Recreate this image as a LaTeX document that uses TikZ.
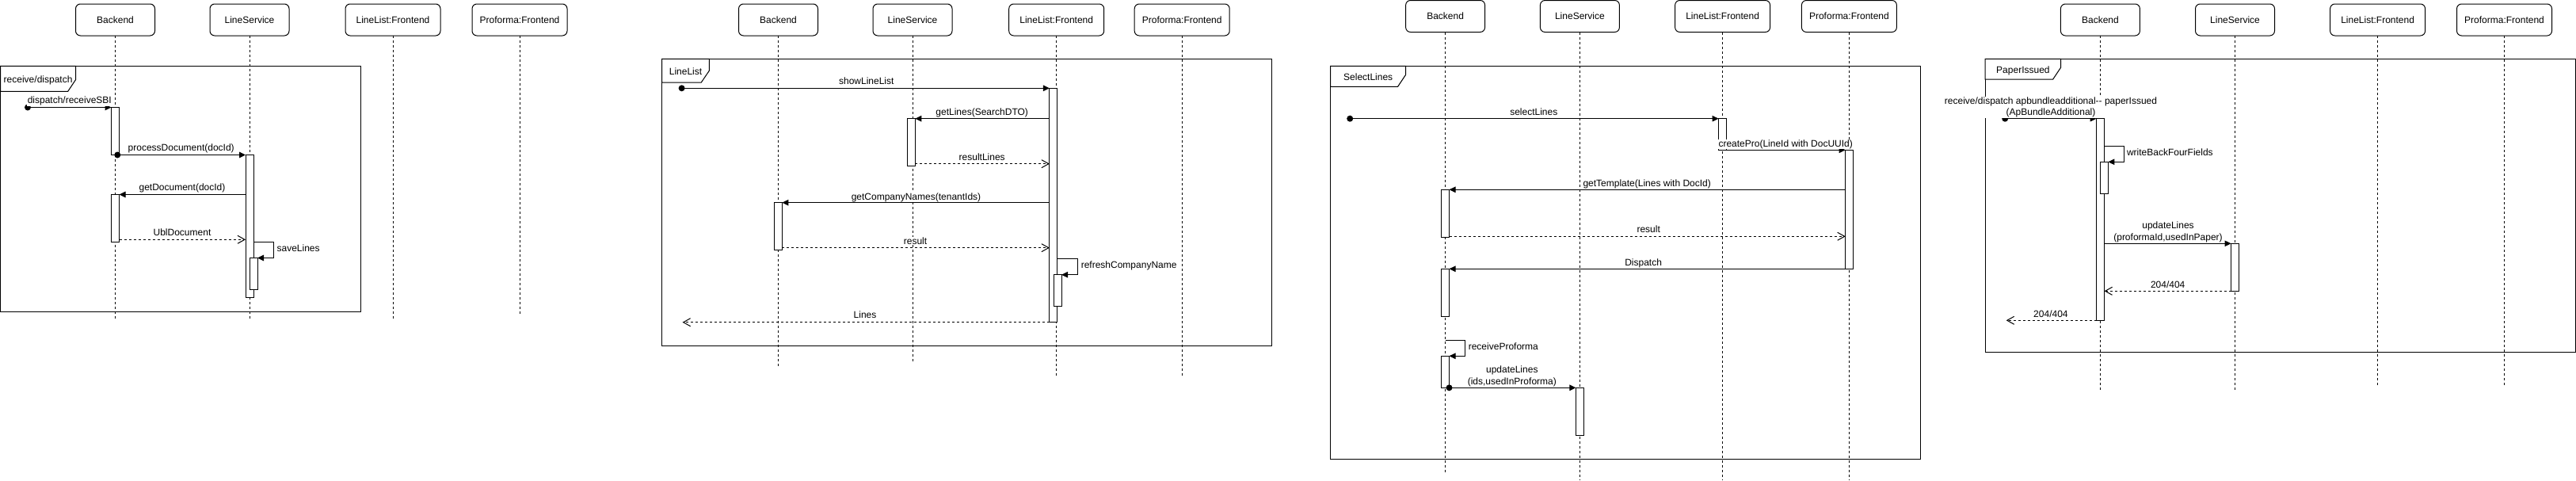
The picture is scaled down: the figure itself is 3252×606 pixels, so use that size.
\documentclass[tikz,border=0pt]{standalone}
\usepackage{fontspec}
\setmainfont{Liberation Sans}
\usetikzlibrary{arrows.meta}
\newcommand\lifeln[6]{\node[#2] (#1) at (#3,#4) {#6};\coordinate (#1e) at (#3,#5);\draw[life] (#1.south) -- (#1e);}
\newcommand\actv[4]{\node[act, minimum height={#4pt-#3pt}, anchor=north west] (#1) at (#2,#3) {};}
\begin{document}
\begin{tikzpicture}[x=1pt,y=-1pt,
  font=\fontsize{12}{14.4}\selectfont,
  every node/.style={inner sep=0pt, outer sep=0pt},
  hdr/.style={draw, line width=1pt, rounded corners=6pt, fill=white, minimum height=40pt, text height=8.6pt, text depth=0pt},
  hdrA/.style={hdr, minimum width=100pt},
  hdrB/.style={hdr, minimum width=120pt},
  life/.style={line width=1pt, dash pattern=on 3pt off 3pt},
  act/.style={draw, line width=1pt, fill=white, minimum width=10pt},
  frm/.style={draw, line width=1pt},
  sync/.style={line width=1pt, -{Triangle[length=8pt,width=7.5pt]}},
  ret/.style={line width=1pt, dash pattern=on 3pt off 3pt, -{Straight Barb[length=9pt,width=10pt]}},
  lbl/.style={fill=white, inner sep=0.6pt, anchor=base},
  lbll/.style={fill=white, inner sep=0.6pt, anchor=base west},
  lblm/.style={fill=white, inner sep=0.6pt, anchor=south, align=center},
  ftitle/.style={anchor=base},
  dotc/.style={circle, fill=black, minimum size=8pt},
]
\useasboundingbox (0,0) rectangle (3252,606);
% ================= Panel 1 =================
\draw[frm] (0.5,83.3) rectangle (455.5,393.3);
\draw[frm, fill=white] (0.5,83.3) -- (95.7,83.3) -- (95.7,100.3) -- (85.7,115.3) -- (0.5,115.3) -- cycle;
\node[ftitle] (f1) at (48.1,104) {receive/dispatch};
\lifeln{a1}{hdrA}{145.5}{25}{402.7}{Backend}
\lifeln{a2}{hdrA}{315}{25}{402.7}{LineService}
\lifeln{a3}{hdrB}{496}{25}{402.7}{LineList:Frontend}
\lifeln{a4}{hdrB}{656}{25}{395.7}{Proforma:Frontend}
\actv{p1b1}{140.5}{135.5}{195.5}
\actv{p1s1}{310}{195.5}{375}
\actv{p1b2}{140.5}{245.5}{305.5}
\actv{p1s2}{315}{325.5}{365.5}
\coordinate (p1m1) at (35,135.5);
\coordinate (p1m2) at (148.3,195.5);
\coordinate (p1m4) at (150.5,302.3);
\coordinate (p1m5) at (345.3,305.5);
\draw[sync] (p1m1) -- (p1b1.north west);
\draw[sync] (p1m2) -- (p1s1.north west);
\draw[sync] (p1s1.west |- p1b2.north) -- (p1b2.north east);
\draw[ret] (p1m4) -- (p1s1.west |- p1m4);
\draw[sync] (p1s1.east |- p1m5) -- (p1m5) -- (p1m5 |- p1s2.north) -- (p1s2.north east);
\node[dotc] (p1d1) at (p1m1) {};
\node[dotc] (p1d2) at (p1m2) {};
\node[lbl] (p1t1) at (87.8,130.7) {dispatch/receiveSBI};
\node[lbl] (p1t2) at (228.7,190.7) {processDocument(docId)};
\node[lbl] (p1t3) at (230,240.7) {getDocument(docId)};
\node[lbl] (p1t4) at (230,297.3) {UblDocument};
\node[lbll] (p1t5) at (349,317.3) {saveLines};
% ================= Panel 2 =================
\draw[frm] (835.6,74.3) rectangle (1605.5,436);
\draw[frm, fill=white] (835.6,74.3) -- (895.3,74.3) -- (895.3,89.3) -- (885.3,104) -- (835.6,104) -- cycle;
\node[ftitle] (f2) at (865.5,94) {LineList};
\lifeln{b1}{hdrA}{982.5}{25}{462.3}{Backend}
\lifeln{b2}{hdrA}{1152}{25}{455.7}{LineService}
\lifeln{b3}{hdrB}{1333.7}{25}{474}{LineList:Frontend}
\lifeln{b4}{hdrB}{1492.2}{25}{474}{Proforma:Frontend}
\actv{p2f1}{1324.9}{111.3}{406.7}
\actv{p2s1}{1145.3}{149.7}{209.3}
\actv{p2b1}{977.4}{255.7}{315}
\actv{p2f2}{1330}{346.7}{386}
\coordinate (p2m1) at (860.6,111.3);
\coordinate (p2m3) at (1155.3,206.7);
\coordinate (p2m5) at (987.4,312.7);
\coordinate (p2m6) at (1360.6,326.7);
\coordinate (p2m7) at (861.6,406.7);
\draw[sync] (p2m1) -- (p2f1.north west);
\draw[sync] (p2f1.west |- p2s1.north) -- (p2s1.north east);
\draw[ret] (p2m3) -- (p2f1.west |- p2m3);
\draw[sync] (p2f1.west |- p2b1.north) -- (p2b1.north east);
\draw[ret] (p2m5) -- (p2f1.west |- p2m5);
\draw[sync] (p2f1.east |- p2m6) -- (p2m6) -- (p2m6 |- p2f2.north) -- (p2f2.north east);
\draw[ret] (p2f1.south west) -- (p2m7);
\node[dotc] (p2d1) at (p2m1) {};
\node[lbl] (p2t1) at (1093.8,106.7) {showLineList};
\node[lbl] (p2t2) at (1239.7,145) {getLines(SearchDTO)};
\node[lbl] (p2t3) at (1239.7,202) {resultLines};
\node[lbl] (p2t4) at (1156.5,252) {getCompanyNames(tenantIds)};
\node[lbl] (p2t5) at (1155.5,308) {result};
\node[lbll] (p2t6) at (1364.2,338.7) {refreshCompanyName};
\node[lbl] (p2t7) at (1092,401.7) {Lines};
% ================= Panel 3 =================
\draw[frm] (1679.7,83.3) rectangle (2424.6,579.3);
\draw[frm, fill=white] (1679.7,83.3) -- (1774.6,83.3) -- (1774.6,94.3) -- (1764.6,109.3) -- (1679.7,109.3) -- cycle;
\node[ftitle] (f3) at (1727.2,101) {SelectLines};
\lifeln{c1}{hdrA}{1824.6}{20.5}{595.7}{Backend}
\lifeln{c2}{hdrA}{1994.4}{20.5}{606}{LineService}
\lifeln{c3}{hdrB}{2174.6}{20.5}{606}{LineList:Frontend}
\lifeln{c4}{hdrB}{2334.4}{20.5}{606}{Proforma:Frontend}
\actv{p3f1}{2169.5}{149.7}{189.3}
\actv{p3p1}{2329.7}{189.3}{339.3}
\actv{p3b1}{1819.5}{239.3}{299}
\actv{p3b2}{1819.5}{339.3}{399}
\actv{p3b3}{1819.5}{449.3}{489.3}
\actv{p3s1}{1989.4}{489.3}{549}
\coordinate (p3m1) at (1704.2,149.7);
\coordinate (p3m4) at (1829.5,298.3);
\coordinate (p3m6) at (1849.6,429.3);
\coordinate (p3m7) at (1829.5,489.3);
\draw[sync] (p3m1) -- (p3f1.north west);
\draw[sync] (p3f1.south west) -- (p3p1.north west);
\draw[sync] (p3p1.west |- p3b1.north) -- (p3b1.north east);
\draw[ret] (p3m4) -- (p3p1.west |- p3m4);
\draw[sync] (p3p1.south west) -- (p3b2.north east);
\draw[sync] (c1e |- p3m6) -- (p3m6) -- (p3m6 |- p3b3.north) -- (p3b3.north east);
\draw[sync] (p3b3.south west) -- (p3s1.north west);
\node[dotc] (p3d1) at (p3m1) {};
\node[dotc] (p3d2) at (p3m7) {};
\node[lbl] (p3t1) at (1936.3,145) {selectLines};
\node[lbl] (p3t2) at (2254.2,185) {createPro(LineId with DocUUId)};
\node[lbl] (p3t3) at (2079.2,235.7) {getTemplate(Lines with DocId)};
\node[lbl] (p3t4) at (2081.2,293.7) {result};
\node[lbl] (p3t5) at (2074.6,335.7) {Dispatch};
\node[lbll] (p3t6) at (1853.2,441.7) {receiveProforma};
\node[lblm] (p3t7) at (1908.8,488.1) {updateLines\\(ids,usedInProforma)};
% ================= Panel 4 =================
\draw[frm] (2506.1,74.3) rectangle (3251.4,444.3);
\draw[frm, fill=white] (2506.1,74.3) -- (2601.7,74.3) -- (2601.7,85) -- (2591.7,100) -- (2506.1,100) -- cycle;
\node[ftitle] (f4) at (2553.9,92) {PaperIssued};
\lifeln{d1}{hdrA}{2651.4}{25}{492.3}{Backend}
\lifeln{d2}{hdrA}{2821.5}{25}{492.3}{LineService}
\lifeln{d3}{hdrB}{3001.6}{25}{485.7}{LineList:Frontend}
\lifeln{d4}{hdrB}{3161.5}{25}{485.7}{Proforma:Frontend}
\actv{p4b1}{2646.5}{149.7}{404.3}
\actv{p4b2}{2651.4}{204.3}{244.3}
\actv{p4s1}{2816.5}{307.3}{367.3}
\coordinate (p4m1) at (2531.2,149.7);
\coordinate (p4m2) at (2681,184.3);
\coordinate (p4m5) at (2532.7,404.3);
\draw[sync] (p4m1) -- (p4b1.north west);
\draw[sync] (p4b1.east |- p4m2) -- (p4m2) -- (p4m2 |- p4b2.north) -- (p4b2.north east);
\draw[sync] (p4b1.east |- p4s1.north) -- (p4s1.north west);
\draw[ret] (p4s1.south west) -- (p4b1.east |- p4s1.south);
\draw[ret] (p4b1.south west) -- (p4m5);
\node[dotc] (p4d1) at (p4m1) {};
\node[lblm] (p4t1) at (2589,148.5) {receive/dispatch apbundleadditional-{}- paperIssued\\(ApBundleAdditional)};
\node[lbll] (p4t2) at (2684.4,196.7) {writeBackFourFields};
\node[lblm] (p4t3) at (2737,306.1) {updateLines\\(proformaId,usedInPaper)};
\node[lbl] (p4t4) at (2736.7,363) {204/404};
\node[lbl] (p4t5) at (2588.9,400) {204/404};
\end{tikzpicture}
\end{document}
